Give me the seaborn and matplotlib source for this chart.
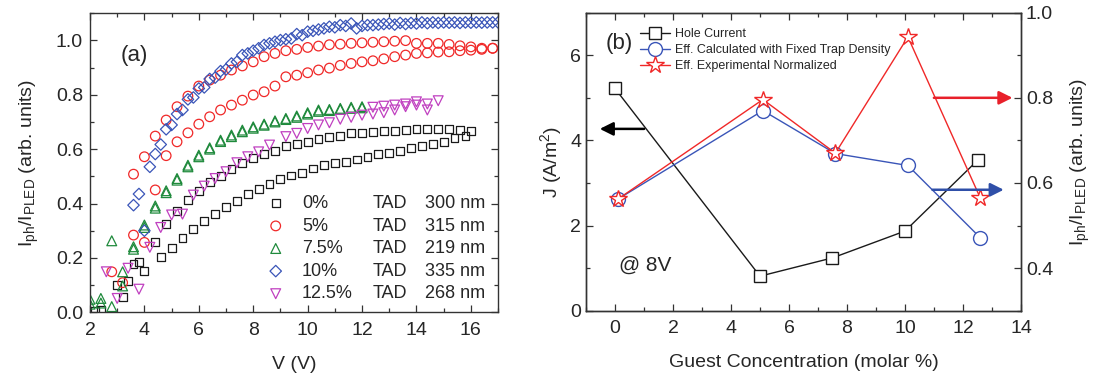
import numpy as np
import pandas as pd
import matplotlib
matplotlib.use('Agg')
import matplotlib.pyplot as plt
import seaborn as sns
from matplotlib.ticker import MultipleLocator

sns.set_style('ticks')
plt.rcParams['font.family'] = ['Liberation Sans', 'DejaVu Sans']
plt.rcParams['mathtext.fontset'] = 'custom'
plt.rcParams['mathtext.rm'] = 'Liberation Sans'
plt.rcParams['mathtext.it'] = 'Liberation Sans:italic'
plt.rcParams['mathtext.default'] = 'regular'

# ---------------- Panel (a) data ----------------
v_black1 = [2.2, 3.0, 3.4, 3.8, 4.4, 4.8, 5.2, 5.6, 6.0, 6.4, 6.8, 7.2, 7.6, 8.0, 8.4, 8.8, 9.2, 9.6,
            10.0, 10.4, 10.8, 11.2, 11.6, 12.0, 12.4, 12.8, 13.2, 13.6, 14.0, 14.4, 14.8, 15.2, 15.6, 16.0]
y_black1 = [0.004, 0.100, 0.116, 0.186, 0.260, 0.325, 0.374, 0.413, 0.447, 0.478, 0.502, 0.528, 0.548,
            0.566, 0.582, 0.593, 0.613, 0.619, 0.627, 0.636, 0.646, 0.648, 0.658, 0.660, 0.662, 0.668,
            0.668, 0.670, 0.673, 0.673, 0.673, 0.673, 0.670, 0.668]
v_black2 = [2.4, 3.2, 3.6, 4.0, 4.6, 5.0, 5.4, 5.8, 6.2, 6.6, 7.0, 7.4, 7.8, 8.2, 8.6, 9.0, 9.4, 9.8,
            10.2, 10.6, 11.0, 11.4, 11.8, 12.2, 12.6, 13.0, 13.4, 13.8, 14.2, 14.6, 15.0, 15.4, 15.8]
y_black2 = [0.010, 0.057, 0.178, 0.153, 0.204, 0.236, 0.272, 0.305, 0.336, 0.361, 0.386, 0.410, 0.435,
            0.453, 0.472, 0.489, 0.503, 0.513, 0.529, 0.541, 0.548, 0.554, 0.562, 0.572, 0.582, 0.587,
            0.593, 0.603, 0.611, 0.619, 0.627, 0.640, 0.648]

v_red1 = [3.2, 3.6, 4.0, 4.4, 4.8, 5.2, 5.6, 6.0, 6.4, 6.8, 7.2, 7.6, 8.0, 8.4, 8.8, 9.2, 9.6, 10.0,
          10.4, 10.8, 11.2, 11.6, 12.0, 12.4, 12.8, 13.2, 13.6, 14.0, 14.4, 14.8, 15.2, 15.6, 16.0, 16.4, 16.8]
y_red1 = [0.109, 0.508, 0.572, 0.648, 0.707, 0.756, 0.795, 0.832, 0.854, 0.872, 0.891, 0.906, 0.921,
          0.940, 0.952, 0.962, 0.967, 0.974, 0.979, 0.984, 0.986, 0.989, 0.991, 0.993, 0.995, 0.997,
          0.999, 0.989, 0.989, 0.989, 0.985, 0.980, 0.976, 0.971, 0.971]
v_red2 = [2.8, 3.6, 4.0, 4.4, 4.8, 5.2, 5.6, 6.0, 6.4, 6.8, 7.2, 7.6, 8.0, 8.4, 8.8, 9.2, 9.6, 10.0,
          10.4, 10.8, 11.2, 11.6, 12.0, 12.4, 12.8, 13.2, 13.6, 14.0, 14.4, 14.8, 15.2, 15.6, 16.0, 16.4, 16.8]
y_red2 = [0.149, 0.284, 0.257, 0.450, 0.576, 0.627, 0.660, 0.692, 0.719, 0.744, 0.762, 0.780, 0.799,
          0.811, 0.832, 0.866, 0.872, 0.881, 0.891, 0.898, 0.908, 0.915, 0.921, 0.925, 0.932, 0.940,
          0.946, 0.952, 0.954, 0.957, 0.958, 0.962, 0.964, 0.967, 0.971]

v_green = [2.0, 2.4, 2.8, 3.2, 3.6, 4.0, 4.4, 4.8, 5.2, 5.6, 6.0, 6.4, 6.8, 7.2, 7.6, 8.0, 8.4, 8.8,
           9.2, 9.6, 10.0, 10.4, 10.8, 11.2, 11.6, 12.0]
y_green1 = [0.048, 0.051, 0.263, 0.149, 0.241, 0.321, 0.391, 0.447, 0.492, 0.541, 0.578, 0.605, 0.633,
            0.652, 0.670, 0.682, 0.692, 0.704, 0.713, 0.722, 0.734, 0.744, 0.746, 0.750, 0.754, 0.756]
y_green2 = [0.030, 0.034, 0.021, 0.097, 0.232, 0.312, 0.383, 0.440, 0.486, 0.535, 0.572, 0.600, 0.628,
            0.646, 0.664, 0.677, 0.688, 0.700, 0.709, 0.717, 0.729, 0.739, 0.742, 0.746, 0.750, 0.752]

v_blue = [3.6, 3.8, 4.0, 4.2, 4.4, 4.6, 4.8, 5.0, 5.2, 5.4, 5.6, 5.8, 6.0, 6.2, 6.4, 6.6, 6.8, 7.0,
          7.2, 7.4, 7.6, 7.8, 8.0, 8.2, 8.4, 8.6, 8.8, 9.0, 9.2, 9.4, 9.6, 9.8, 10.0, 10.2, 10.4, 10.6,
          10.8, 11.0, 11.2, 11.4, 11.6, 11.8, 12.0, 12.2, 12.4, 12.6, 12.8, 13.0, 13.2, 13.4, 13.6, 13.8,
          14.0, 14.2, 14.4, 14.6, 14.8, 15.0, 15.2, 15.4, 15.6, 15.8, 16.0, 16.2, 16.4, 16.6, 16.8, 17.0]
y_blue = [0.394, 0.435, 0.300, 0.535, 0.582, 0.617, 0.673, 0.689, 0.729, 0.744, 0.783, 0.790, 0.823,
          0.827, 0.858, 0.863, 0.887, 0.893, 0.915, 0.921, 0.946, 0.952, 0.962, 0.971, 0.983, 0.989,
          0.995, 1.001, 1.004, 1.007, 1.023, 1.019, 1.032, 1.035, 1.040, 1.044, 1.050, 1.048, 1.056,
          1.053, 1.062, 1.044, 1.053, 1.056, 1.056, 1.058, 1.060, 1.062, 1.058, 1.064, 1.060, 1.064,
          1.062, 1.066, 1.063, 1.066, 1.064, 1.066, 1.065, 1.066, 1.064, 1.066, 1.065, 1.066, 1.065,
          1.066, 1.066, 1.066]

v_mag1 = [2.6, 3.0, 3.4, 3.8, 4.2, 4.6, 5.0, 5.4, 5.8, 6.2, 6.6, 7.0, 7.4, 7.8, 8.2, 8.6, 9.2, 9.6,
          10.0, 10.4, 10.8, 11.2, 11.6, 12.0, 12.4, 12.8, 13.2, 13.6, 14.0, 14.4]
y_mag1 = [0.149, 0.051, 0.162, 0.085, 0.239, 0.312, 0.358, 0.361, 0.431, 0.464, 0.492, 0.517, 0.550,
          0.572, 0.590, 0.615, 0.646, 0.658, 0.676, 0.689, 0.697, 0.710, 0.717, 0.725, 0.729, 0.734,
          0.744, 0.756, 0.762, 0.744]
v_mag2 = [12.4, 12.8, 13.2, 13.6, 14.0, 14.4, 14.8]
y_mag2 = [0.754, 0.758, 0.762, 0.766, 0.774, 0.766, 0.778]

legend_pct = ['0%', '5%', '7.5%', '10%', '12.5%']
legend_layer = ['TAD', 'TAD', 'TAD', 'TAD', 'TAD']
legend_thick = ['300 nm', '315 nm', '219 nm', '335 nm', '268 nm']

# ---------------- Panel (b) data ----------------
conc_hole = [0.0, 5.0, 7.5, 10.0, 12.5]
j_hole = [5.22, 0.81, 1.24, 1.87, 3.53]
conc_eff = [0.1, 5.1, 7.6, 10.1, 12.6]
eff_calc = [0.562, 0.770, 0.669, 0.641, 0.471]
eff_exp = [0.562, 0.796, 0.670, 0.943, 0.564]

C_BLACK = '#1a1a1a'
C_RED = '#f02828'
C_GREEN = '#1f8a3c'
C_BLUE = '#3a55b8'
C_MAG = '#c040c0'

fig = plt.figure(figsize=(11, 3.84), dpi=100)
axA = fig.add_axes([0.0818, 0.1867, 0.371, 0.779])
axB = fig.add_axes([0.5327, 0.191, 0.3955, 0.776])
axR = axB.twinx()

# ---------------- Panel (a) ----------------
series = [
    (v_black1, y_black1, 's', 32, C_BLACK, legend_pct[0]),
    (v_black2, y_black2, 's', 32, C_BLACK, None),
    (v_red1, y_red1, 'o', 48, C_RED, legend_pct[1]),
    (v_red2, y_red2, 'o', 48, C_RED, None),
    (v_green, y_green1, '^', 50, C_GREEN, legend_pct[2]),
    (v_green, y_green2, '^', 50, C_GREEN, None),
    (v_blue, y_blue, 'D', 34, C_BLUE, legend_pct[3]),
    (v_mag1, y_mag1, 'v', 50, C_MAG, legend_pct[4]),
    (v_mag2, y_mag2, 'v', 50, C_MAG, None),
]
for vx, vy, mk, s, col, lab in series:
    sns.scatterplot(x=vx, y=vy, marker=mk, s=s, facecolor='none', edgecolor=col,
                    linewidth=0.9, ax=axA, label=lab if lab else '_nolegend_')

axA.set_xlim(2, 17)
axA.set_ylim(0, 1.1)
axA.xaxis.set_major_locator(MultipleLocator(2))
axA.xaxis.set_minor_locator(MultipleLocator(1))
axA.set_yticks([0.0, 0.2, 0.4, 0.6, 0.8, 1.0])
axA.yaxis.set_minor_locator(MultipleLocator(0.1))
axA.set_xlabel('V (V)', fontsize=14, labelpad=12)
axA.set_ylabel(r'$I_{ph}/I_{PLED}$ (arb. units)', fontsize=14)
axA.yaxis.set_label_coords(-0.12, 0.5)
axA.text(0.108, 0.86, '(a)', transform=axA.transAxes, fontsize=16, ha='center', va='center')

h, l = axA.get_legend_handles_labels()
legA = axA.legend(h, l, loc='upper left', bbox_to_anchor=(0.433, 0.392), frameon=False,
                  fontsize=13, handlelength=1.0, handletextpad=0.95, labelspacing=0.31,
                  borderpad=0, borderaxespad=0)

# ---------------- Panel (b) ----------------
sns.lineplot(x=conc_hole, y=j_hole, ax=axB, color=C_BLACK, lw=1.0, marker='s', markersize=9,
             markerfacecolor='white', markeredgecolor=C_BLACK, markeredgewidth=1.0,
             label='Hole Current')
sns.lineplot(x=conc_eff, y=eff_calc, ax=axR, color=C_BLUE, lw=1.0, marker='o', markersize=10,
             markerfacecolor='white', markeredgecolor=C_BLUE, markeredgewidth=1.0,
             label='Eff. Calculated with Fixed Trap Density')
sns.lineplot(x=conc_eff, y=eff_exp, ax=axR, color=C_RED, lw=1.0, marker='*', markersize=13,
             markerfacecolor='white', markeredgecolor=C_RED, markeredgewidth=1.0,
             label='Eff. Experimental Normalized')
for ax in (axB, axR):
    if ax.get_legend() is not None:
        ax.get_legend().remove()

axB.set_xlim(-1, 14)
axB.set_ylim(0, 7)
axR.set_ylim(0.3, 1.0)
axB.xaxis.set_major_locator(MultipleLocator(2))
axB.xaxis.set_minor_locator(MultipleLocator(1))
axB.yaxis.set_major_locator(MultipleLocator(2))
axB.yaxis.set_minor_locator(MultipleLocator(1))
axR.set_yticks([0.4, 0.6, 0.8, 1.0])
axR.yaxis.set_minor_locator(MultipleLocator(0.1))
axB.set_xlabel('Guest Concentration (molar %)', fontsize=14, labelpad=12)
axB.set_ylabel(r'J (A/m$^2$)', fontsize=14)
axR.set_ylabel(r'$I_{ph}/I_{PLED}$ (arb. units)', fontsize=14)
axB.yaxis.set_label_coords(-0.05, 0.5)
axR.yaxis.set_label_coords(1.11, 0.5)

axB.annotate('', xy=(-0.62, 4.27), xytext=(1.1, 4.27),
             arrowprops=dict(arrowstyle='-|>', color='black', lw=1.8, mutation_scale=20))
axR.annotate('', xy=(13.8, 0.8), xytext=(10.9, 0.8),
             arrowprops=dict(arrowstyle='-|>', color='#e8202a', lw=1.8, mutation_scale=20))
axR.annotate('', xy=(13.5, 0.584), xytext=(10.85, 0.584),
             arrowprops=dict(arrowstyle='-|>', color='#2f4fa8', lw=1.8, mutation_scale=20))

axB.text(0.076, 0.895, '(b)', transform=axB.transAxes, fontsize=16, ha='center', va='center')
axB.text(0.136, 0.153, '@ 8V', transform=axB.transAxes, fontsize=15, ha='center', va='center')

h1, l1 = axB.get_legend_handles_labels()
h2, l2 = axR.get_legend_handles_labels()
axR.legend(h1 + h2, l1 + l2, loc='upper left', bbox_to_anchor=(0.124, 0.948), frameon=False,
           fontsize=9, handlelength=2.4, handletextpad=0.4, labelspacing=0.33,
           borderpad=0, borderaxespad=0)

# ---------------- ticks & spines ----------------
for ax in (axA, axB, axR):
    ax.tick_params(which='both', direction='in', labelsize=14, color='#333333')
    ax.tick_params(which='major', length=5, width=0.9)
    ax.tick_params(which='minor', length=3, width=0.9)
axA.tick_params(which='both', top=True, right=True)
axB.tick_params(which='both', top=True, right=False)
axA.tick_params(axis='x', which='major', pad=7)
axB.tick_params(axis='x', which='major', pad=7)
axA.tick_params(axis='y', which='major', pad=5)
for ax in (axA, axB, axR):
    for sp in ax.spines.values():
        sp.set_visible(True)
        sp.set_linewidth(1.0)
        sp.set_color('#333333')

# TAD / thickness columns aligned with legend rows
fig.canvas.draw()
renderer = fig.canvas.get_renderer()
H = fig.bbox.height
for t, lay, th in zip(legA.get_texts(), legend_layer, legend_thick):
    bb = t.get_window_extent(renderer)
    yc = (bb.y0 + bb.y1) / 2 / H
    fig.text(372.7 / 1100, yc, lay, fontsize=13, ha='left', va='center')
    fig.text(425.0 / 1100, yc, th, fontsize=13, ha='left', va='center')

fig.savefig('out.png', dpi=100)
